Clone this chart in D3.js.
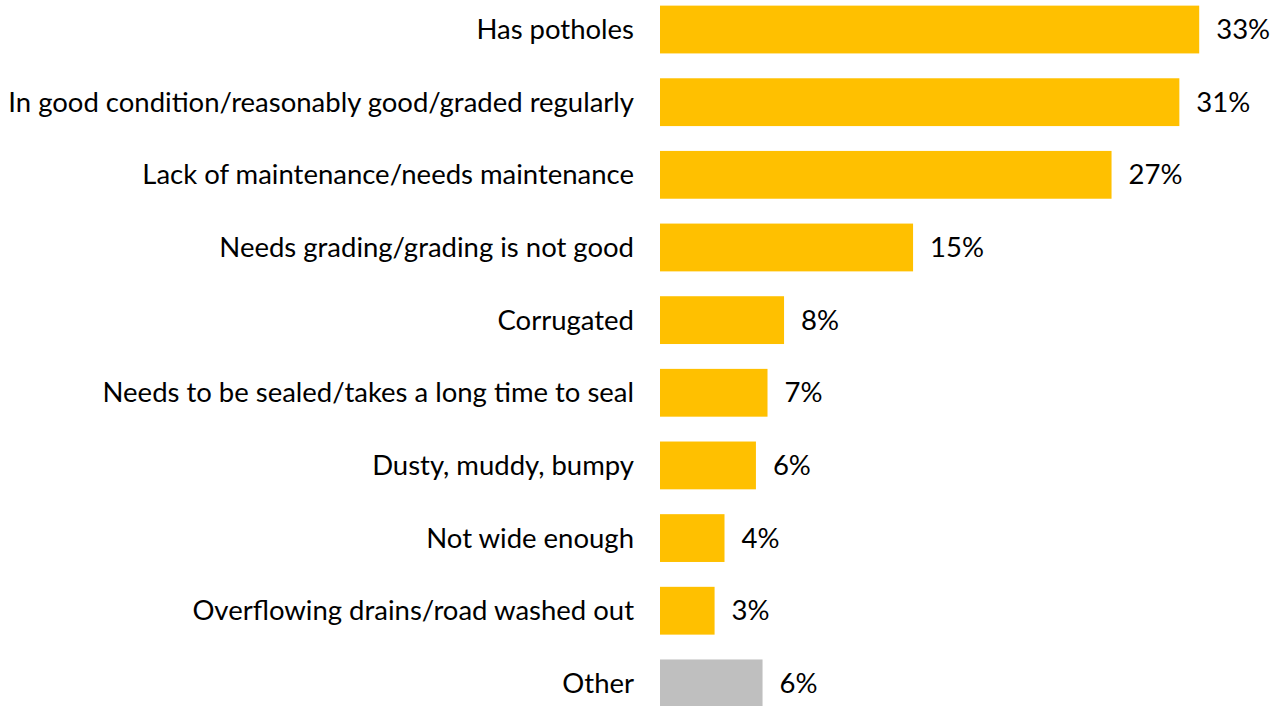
<!DOCTYPE html>
<html>
<head>
<meta charset="utf-8">
<script src="https://cdn.jsdelivr.net/npm/d3@7"></script>
<style>
  html, body { margin: 0; padding: 0; background: #ffffff; }
  svg { display: block; }
  text { font-family: Lato, "Open Sans", sans-serif; fill: #000; }
</style>
</head>
<body>
<svg id="chart" width="1286" height="706"></svg>
<script>
const categories = [
  "Has potholes",
  "In good condition/reasonably good/graded regularly",
  "Lack of maintenance/needs maintenance",
  "Needs grading/grading is not good",
  "Corrugated",
  "Needs to be sealed/takes a long time to seal",
  "Dusty, muddy, bumpy",
  "Not wide enough",
  "Overflowing drains/road washed out",
  "Other"
];
const values = [32.6, 31.4, 27.3, 15.3, 7.5, 6.5, 5.8, 3.9, 3.3, 6.2];
const valueLabels = ["33%", "31%", "27%", "15%", "8%", "7%", "6%", "4%", "3%", "6%"];
const isOther = [false, false, false, false, false, false, false, false, false, true];

const svg = d3.select("#chart");
const W = 1286, H = 706;
const x0 = 660;
const pxPerUnit = 16.54;

const x = d3.scaleLinear().domain([0, 35]).range([x0, x0 + 35 * pxPerUnit]);
const y = d3.scaleBand()
  .domain(categories)
  .range([-6.8, 719.7])
  .paddingInner(0.342)
  .paddingOuter(0.171);

const data = categories.map((c, i) => ({ c, v: values[i], lab: valueLabels[i], other: isOther[i] }));

// bars
svg.append("g").selectAll("rect").data(data).join("rect")
  .attr("x", x(0))
  .attr("y", d => y(d.c))
  .attr("width", d => x(d.v) - x(0))
  .attr("height", y.bandwidth())
  .attr("fill", d => d.other ? "#BFBFBF" : "#FFC000");

// category labels, fit font size so longest label spans ~626px
const labelRight = 634;
const catG = svg.append("g");
const cats = catG.selectAll("text").data(data).join("text")
  .attr("x", labelRight)
  .attr("y", d => y(d.c) + y.bandwidth() / 2)
  .attr("dy", "0.35em")
  .attr("text-anchor", "end")
  .style("font-size", "24px")
  .text(d => d.c);

let maxW = 0;
cats.each(function () { maxW = Math.max(maxW, this.getComputedTextLength()); });
const fs = 24 * 626 / maxW;
cats.style("font-size", fs + "px");

// value labels
svg.append("g").selectAll("text").data(data).join("text")
  .attr("x", d => x(d.v) + 17)
  .attr("y", d => y(d.c) + y.bandwidth() / 2)
  .attr("dy", "0.35em")
  .attr("text-anchor", "start")
  .style("font-size", fs + "px")
  .text(d => d.lab);
</script>
</body>
</html>
